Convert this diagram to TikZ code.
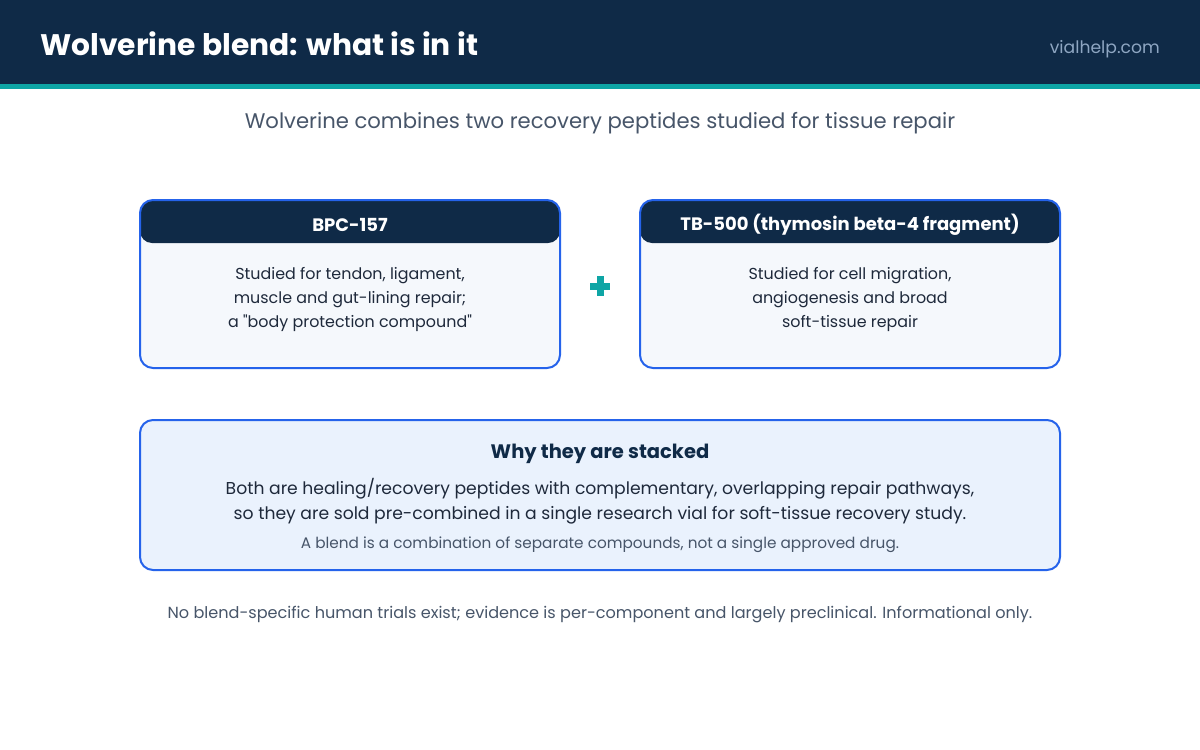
\documentclass[tikz,border=0pt]{standalone}
\usepackage{fontspec}
\setmainfont{Poppins}[Ligatures=TeXOff]
\definecolor{navy}{HTML}{0F2A47}
\definecolor{teal}{HTML}{0EA5A5}
\definecolor{site}{HTML}{8EA6C2}
\definecolor{subt}{HTML}{475569}
\definecolor{body}{HTML}{1E293B}
\definecolor{blueb}{HTML}{2563EB}
\definecolor{cardbg}{HTML}{F5F8FC}
\definecolor{whybg}{HTML}{EAF2FD}
\tikzset{
  card/.style={draw=blueb, line width=2pt, rounded corners=13pt},
  cardhead/.style={fill=navy, rounded corners=12pt},
  headtext/.style={text=white, font=\fontsize{18}{20}\selectfont\bfseries},
  bodytext/.style={text=body, align=center, font=\fontsize{15.9}{24}\selectfont},
}
\begin{document}
\begin{tikzpicture}[x=1pt,y=-1pt]
\useasboundingbox (0,0) rectangle (1200,750);
\fill[white] (0,0) rectangle (1200,750);
% header
\fill[navy] (0,0) rectangle (1200,84);
\fill[teal] (0,84) rectangle (1200,89);
\node[anchor=west, inner sep=0pt, text=white, font=\fontsize{29.7}{34}\selectfont\bfseries] (title) at (40,44) {Wolverine blend: what is in it};
\node[anchor=east, inner sep=0pt, text=site, font=\fontsize{17.2}{20}\selectfont] (site) at (1160,49) {vialhelp.com};
\node[text=subt, font=\fontsize{21.15}{24}\selectfont] (sub) at (600,123) {Wolverine combines two recovery peptides studied for tissue repair};
% card 1
\fill[cardbg, rounded corners=13pt] (140,200) rectangle (560,368);
\fill[cardhead] (140,200) rectangle (560,243);
\draw[card] (140,200) rectangle (560,368);
\node[headtext] (h1) at (350,225) {BPC-157};
\node[bodytext] (b1) at (350,299) {Studied for tendon, ligament,\\muscle and gut-lining repair;\\a "body protection compound"};
% card 2
\fill[cardbg, rounded corners=13pt] (640,200) rectangle (1060,368);
\fill[cardhead] (640,200) rectangle (1060,243);
\draw[card] (640,200) rectangle (1060,368);
\node[headtext] (h2) at (850,225) {TB-500 (thymosin beta-4 fragment)};
\node[bodytext] (b2) at (850,299) {Studied for cell migration,\\angiogenesis and broad\\soft-tissue repair};
% plus
\fill[teal] (596.5,276) rectangle (603.5,296);
\fill[teal] (590,282.5) rectangle (610,289.5);
% why card
\draw[card, fill=whybg] (140,420) rectangle (1060,570);
\node[text=navy, font=\fontsize{19.5}{22}\selectfont\bfseries] (why) at (600,454) {Why they are stacked};
\node[text=body, align=center, font=\fontsize{17.2}{25}\selectfont] (whyb) at (600,501) {Both are healing/recovery peptides with complementary, overlapping repair pathways,\\so they are sold pre-combined in a single research vial for soft-tissue recovery study.};
\node[text=subt, font=\fontsize{15.3}{18}\selectfont] (note) at (600,545) {A blend is a combination of separate compounds, not a single approved drug.};
\node[text=subt, font=\fontsize{16.1}{19}\selectfont] (foot) at (600,615) {No blend-specific human trials exist; evidence is per-component and largely preclinical. Informational only.};
\end{tikzpicture}
\end{document}
